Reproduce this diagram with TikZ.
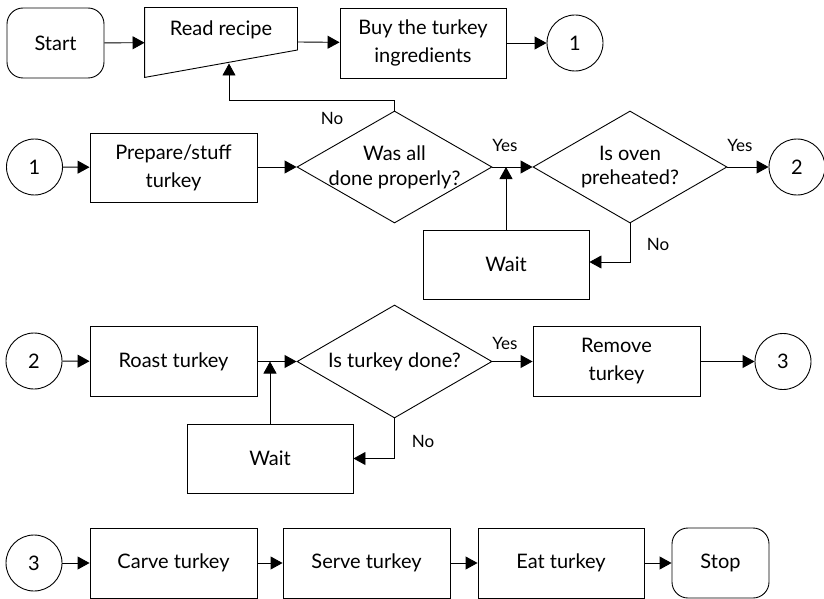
\documentclass[tikz,border=0pt]{standalone}
\usepackage{fontspec}
\setmainfont{Lato}
\usetikzlibrary{shapes.geometric,arrows.meta,calc}
\begin{document}
\begin{tikzpicture}[x=1pt, y={(0pt,-1pt)}, line width=0.9pt,
    every node/.style={font=\fontsize{20}{28}\selectfont, align=center},
    box/.style={draw, rectangle, minimum width=167pt, minimum height=70pt, inner sep=2pt},
    term/.style={draw, rectangle, rounded corners=16pt, minimum width=97pt, minimum height=70pt},
    conn/.style={draw, circle, minimum size=56pt, inner sep=0pt},
    decision/.style={draw, diamond, minimum width=195pt, minimum height=112pt, inner sep=0pt},
    lbl/.style={font=\fontsize{17}{20}\selectfont},
    arr/.style={-{Triangle[length=12pt,width=13pt]}}]
  \useasboundingbox (0,0) rectangle (824,599);
  \node (start) [term] at (55.5,43) {Start};
  \node (read) [minimum width=152pt, minimum height=69pt, inner sep=0pt] at (221,42.5) {};
  \draw (read.north west) -- (read.north east) -- ([yshift=-7.5pt]read.east) -- (read.south west) -- cycle;
  \node at (221,30) {Read recipe};
  \node (buy) [box, minimum width=166pt] at (423,43) {Buy the turkey\\ingredients};
  \node (c1a) [conn] at (575,43) {1};
  \node (c1b) [conn] at (34.5,167) {1};
  \node (prep) [box, minimum height=69pt] at (173.5,167.5) {Prepare/stuff\\turkey};
  \node (q1) [decision, label={[align=center, font=\fontsize{20}{25}\selectfont]center:Was all\\done properly?}] at (394.5,167) {};
  \node (q2) [decision, minimum width=194pt, label={[align=center, font=\fontsize{20}{24}\selectfont]center:Is oven\\preheated?}] at (630,167) {};
  \node (c2a) [conn] at (797,167) {2};
  \node (wait1) [box, minimum width=166pt, minimum height=69pt] at (506,264.5) {Wait};
  \node (c2b) [conn] at (34,361) {2};
  \node (roast) [box] at (173.5,361.5) {Roast turkey};
  \node (q3) [decision, minimum height=113pt, label={center:Is turkey done?}] at (394.5,361.5) {};
  \node (remove) [box] at (616.5,361.5) {Remove\\turkey};
  \node (c3a) [conn] at (783,361.5) {3};
  \node (wait2) [box, minimum width=166pt, minimum height=69pt] at (270,458.5) {Wait};
  \node (c3b) [conn] at (34,563) {3};
  \node (carve) [box] at (173.5,563) {Carve turkey};
  \node (serve) [box] at (366.5,563) {Serve turkey};
  \node (eat) [box, minimum width=166pt] at (561,563) {Eat turkey};
  \node (stop) [term] at (720.5,563) {Stop};
  \coordinate (readin) at (229,63.5);
  \coordinate (m1) at (wait1.north |- q1.east);
  \coordinate (m2) at (wait2.north |- q3.west);
  \draw[arr] (start) -- (read);
  \draw[arr] ([yshift=0.5pt]read.east) -- (buy);
  \draw[arr] (buy) -- (c1a);
  \draw[arr] (c1b) -- (prep);
  \draw[arr] (prep.east |- q1.west) -- (q1.west);
  \draw[arr] (q1.east) -- (q2.west);
  \draw[arr] (q2.east) -- (c2a);
  \draw[arr] (q1.north) -- ++(0,-10) -| (readin);
  \draw[arr] (q2.south) |- ([yshift=2.5pt]wait1.east);
  \draw[arr] (wait1.north) -- (m1);
  \draw[arr] (c2b) -- (roast);
  \draw[arr] (roast.east |- q3.west) -- (q3.west);
  \draw[arr] (q3.east) -- (remove);
  \draw[arr] (remove) -- (c3a);
  \draw[arr] (q3.south) |- (wait2.east);
  \draw[arr] (wait2.north) -- (m2);
  \draw[arr] (c3b) -- (carve);
  \draw[arr] (carve) -- (serve);
  \draw[arr] (serve) -- (eat);
  \draw[arr] (eat) -- (stop);
  \node[lbl] at (332,118) {No};
  \node[lbl] at (505,145) {Yes};
  \node[lbl] at (740,145) {Yes};
  \node[lbl] at (658,244) {No};
  \node[lbl] at (505,343) {Yes};
  \node[lbl] at (423,441) {No};
\end{tikzpicture}
\end{document}
